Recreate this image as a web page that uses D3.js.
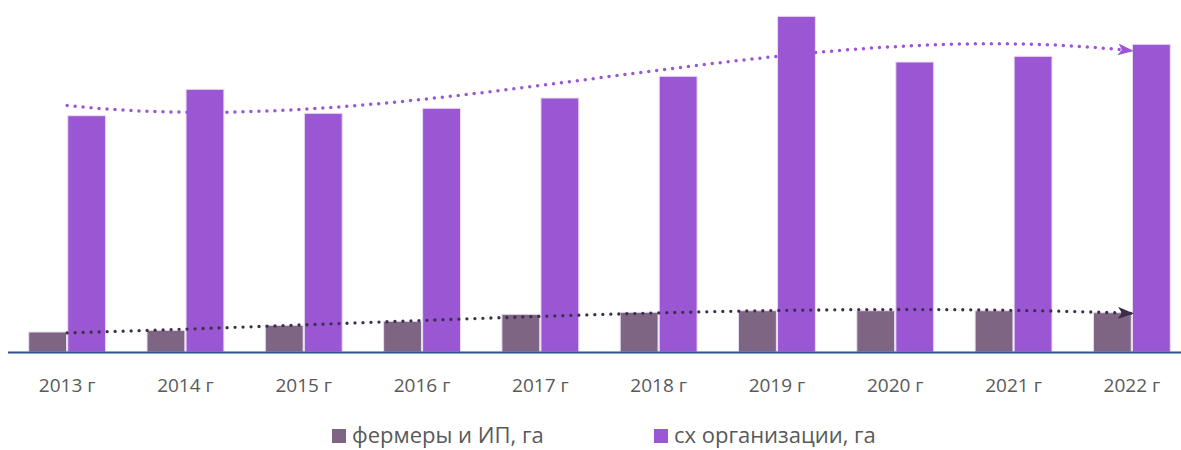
<!DOCTYPE html>
<html>
<head>
<meta charset="utf-8">
<script src="https://cdn.jsdelivr.net/npm/d3@7"></script>
<style>
  body { margin: 0; background: #fff; }
  svg { display: block; }
  .tick-label { font-family: "Open Sans", sans-serif; font-size: 19px; fill: #595959; }
  .legend-label { font-family: "Open Sans", sans-serif; font-size: 22px; fill: #595959; }
</style>
</head>
<body>
<div id="chart"></div>
<script>
var years = ["2013 г", "2014 г", "2015 г", "2016 г", "2017 г", "2018 г", "2019 г", "2020 г", "2021 г", "2022 г"];
var farmers = [2000, 2170, 2670, 3070, 3770, 3970, 4130, 4130, 4130, 3930];
var orgs = [23630, 26270, 23870, 24370, 25400, 27570, 33570, 29000, 29570, 30770];
var series_names = ["фермеры и ИП, га", "сх организации, га"];

var width = 1181;
var height = 450;
var baseline_y = 352;

var colors = ["#7f6584", "#9b57d3"];
var trend_colors = ["#3d2e47", "#9b57d3"];

var svg = d3.select("#chart").append("svg")
    .attr("width", width)
    .attr("height", height);

var x = d3.scaleBand()
    .domain(years)
    .range([8, 1191])
    .paddingInner(0.35)
    .paddingOuter(0.175);

var x_inner = d3.scaleBand()
    .domain([0, 1])
    .range([0, x.bandwidth()])
    .paddingInner(0.03);

var y = d3.scaleLinear()
    .domain([0, 35000])
    .range([baseline_y, 2]);

// Polynomial least squares fit, like an Excel trendline (x = 1..n).
function polyfit(values, order) {
    var n = order + 1;
    var A = [];
    for (var i = 0; i < n; i++) {
        A.push(new Array(n + 1).fill(0));
    }
    values.forEach(function(v, k) {
        var xv = k + 1;
        for (var i = 0; i < n; i++) {
            for (var j = 0; j < n; j++) {
                A[i][j] += Math.pow(xv, i + j);
            }
            A[i][n] += v * Math.pow(xv, i);
        }
    });
    // Gaussian elimination
    for (var c = 0; c < n; c++) {
        var piv = c;
        for (var r = c + 1; r < n; r++) {
            if (Math.abs(A[r][c]) > Math.abs(A[piv][c])) piv = r;
        }
        var tmp = A[c]; A[c] = A[piv]; A[piv] = tmp;
        for (var r2 = 0; r2 < n; r2++) {
            if (r2 === c) continue;
            var f = A[r2][c] / A[c][c];
            for (var k = c; k <= n; k++) A[r2][k] -= f * A[c][k];
        }
    }
    var coef = [];
    for (var i2 = 0; i2 < n; i2++) coef.push(A[i2][n] / A[i2][i2]);
    return function(xv) {
        var s = 0;
        for (var i = 0; i < n; i++) s += coef[i] * Math.pow(xv, i);
        return s;
    };
}

// Bars
var groups = svg.selectAll(".group").data(years).enter().append("g")
    .attr("class", "group")
    .attr("transform", function(d) { return "translate(" + x(d) + ",0)"; });

[farmers, orgs].forEach(function(data, s) {
    groups.append("rect")
        .attr("x", x_inner(s))
        .attr("width", x_inner.bandwidth())
        .attr("y", function(d, i) { return y(data[i]); })
        .attr("height", function(d, i) { return baseline_y - y(data[i]); })
        .attr("fill", colors[s])
        .attr("stroke", "#eadff2")
        .attr("stroke-width", 1);
});

// Baseline
svg.append("line")
    .attr("x1", 8)
    .attr("x2", width)
    .attr("y1", baseline_y + 0.5)
    .attr("y2", baseline_y + 0.5)
    .attr("stroke", "#2f4f8f")
    .attr("stroke-width", 2);

// Arrow markers
var defs = svg.append("defs");
trend_colors.forEach(function(c, s) {
    defs.append("marker")
        .attr("id", "arrow" + s)
        .attr("viewBox", "0 0 16 12")
        .attr("refX", 14)
        .attr("refY", 6)
        .attr("markerWidth", 16)
        .attr("markerHeight", 12)
        .attr("markerUnits", "userSpaceOnUse")
        .attr("orient", "auto")
        .append("path")
        .attr("d", "M0,0 L16,6 L0,12 L4,6 Z")
        .attr("fill", c);
});

// Trendlines
var trend_orders = [3, 3];
var trend_widths = [3.3, 3.5];
[farmers, orgs].forEach(function(data, s) {
    var fit = polyfit(data, trend_orders[s]);
    var xs = d3.range(1, 10.0001, 0.05);
    var line = d3.line()
        .x(function(t) { return x(years[0]) + x.bandwidth() / 2 + (t - 1) * x.step(); })
        .y(function(t) { return y(fit(t)); });
    svg.append("path")
        .datum(xs)
        .attr("d", line)
        .attr("fill", "none")
        .attr("stroke", trend_colors[s])
        .attr("stroke-width", trend_widths[s])
        .attr("stroke-linecap", "round")
        .attr("stroke-dasharray", "0,8")
        .attr("marker-end", "url(#arrow" + s + ")");
});

// X labels
svg.selectAll(".tick-label").data(years).enter().append("text")
    .attr("class", "tick-label")
    .attr("x", function(d) { return x(d) + x.bandwidth() / 2; })
    .attr("y", 392)
    .attr("text-anchor", "middle")
    .text(function(d) { return d; });

// Legend
var legend_x = [332, 654];
series_names.forEach(function(name, s) {
    var g = svg.append("g").attr("transform", "translate(" + legend_x[s] + ",429)");
    g.append("rect")
        .attr("width", 14)
        .attr("height", 14)
        .attr("fill", colors[s]);
    g.append("text")
        .attr("class", "legend-label")
        .attr("x", 20)
        .attr("y", 14)
        .text(name);
});
</script>
</body>
</html>
